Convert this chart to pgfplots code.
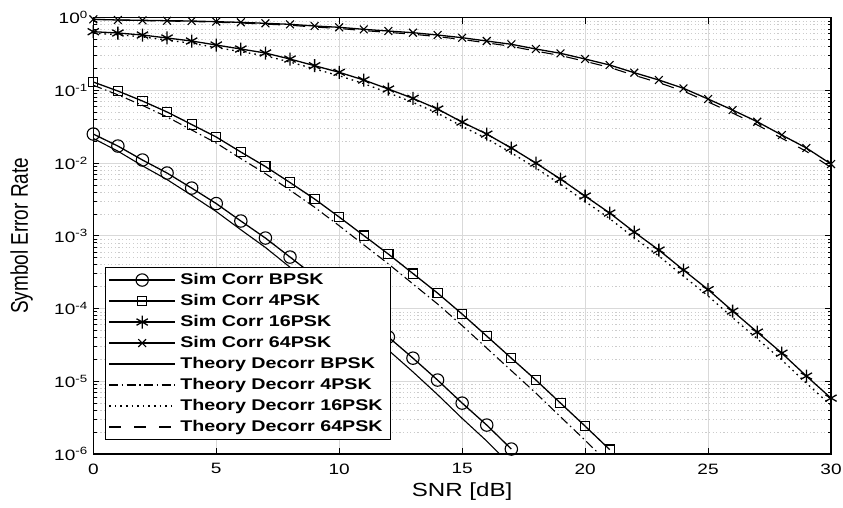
\documentclass[border=0pt]{standalone}
\usepackage{fontspec}
\setmainfont{Liberation Sans}[FakeStretch=1.27]
\newfontfamily\ylfont{Liberation Sans}
\usepackage{graphicx}
\usepackage{pgfplots}
\pgfplotsset{compat=1.18}
\pgfplotsset{
  simbpsk/.style={black, line width=1.3pt, mark=o, mark size=6.2pt, mark options={solid, line width=1.1pt}},
  sim4/.style={black, line width=1.3pt, mark=square, mark size=4.6pt, mark options={solid, line width=1.1pt}},
  sim16/.style={black, line width=1.3pt, mark=asterisk, mark size=6.5pt, mark options={solid, line width=1.3pt}},
  sim64/.style={black, line width=1.3pt, mark=x, mark size=5.5pt, mark options={solid, line width=1.1pt}},
  thbpsk/.style={black, line width=1.1pt, solid, no markers},
  th4/.style={black, line width=1.1pt, dash pattern=on 9pt off 3.5pt on 1.5pt off 3.5pt, no markers},
  th16/.style={black, line width=1.3pt, dash pattern=on 1.6pt off 4pt, no markers},
  th64/.style={black, line width=1.1pt, dash pattern=on 12pt off 13pt, no markers},
}
\begin{document}
\begin{tikzpicture}
\begin{axis}[
  scale only axis, width=737.7pt, height=436.3pt,
  at={(0pt,0pt)}, anchor=south west,
  xmin=0, xmax=30, ymode=log, ymin=1e-6, ymax=1,
  xtick={0,5,10,15,20,25,30},
  minor x tick num=0,
  ytick={1e-6,1e-5,1e-4,1e-3,1e-2,1e-1,1},
  yticklabels={10\textsuperscript{-6},10\textsuperscript{-5},10\textsuperscript{-4},10\textsuperscript{-3},10\textsuperscript{-2},10\textsuperscript{-1},10\textsuperscript{0}},
  /pgf/number format/assume math mode=true,
  tick label style={font=\fontsize{15}{18}\selectfont},
  xticklabel style={yshift=-6pt},
  yticklabel style={xshift=-2pt},
  xlabel={SNR [dB]},
  ylabel={\ylfont\scalebox{1}[1.27]{Symbol Error Rate}},
  xlabel style={font=\fontsize{19}{22}\selectfont, at={(axis description cs:0.5,0)}, anchor=center, yshift=-38pt},
  ylabel style={font=\fontsize{19}{22}\selectfont, at={(axis description cs:-0.097,0.5)}, anchor=center},
  axis line style={line width=1.2pt},
  tick style={black, line width=0.9pt},
  major tick length=6pt, minor tick length=3.5pt,
  tick pos=both, tick align=inside,
  xmajorgrids, ymajorgrids, yminorgrids,
  major grid style={gray!30, line width=0.8pt},
  minor grid style={gray!40, line width=0.8pt, dash pattern=on 1.2pt off 2.4pt},
]
% Sim Corr BPSK
\addplot[simbpsk] coordinates {
(0,0.02512) (1,0.01718) (2,0.01104) (3,0.00731) (4,0.00454) (5,0.00278) (6,0.00160) (7,0.000933) (8,0.000511) (9,0.000280) (10,0.0001486) (11,7.89e-5) (12,4.06e-5) (13,2.08e-5) (14,1.04e-5) (15,5.01e-6) (16,2.50e-6) (17,1.17e-6)};
% Sim Corr 4PSK
\addplot[sim4] coordinates {
(0,0.1305) (1,0.0981) (2,0.0715) (3,0.0505) (4,0.0340) (5,0.02286) (6,0.01422) (7,0.00898) (8,0.00541) (9,0.00321) (10,0.001815) (11,0.001009) (12,0.000562) (13,0.000303) (14,0.0001633) (15,8.40e-5) (16,4.19e-5) (17,2.08e-5) (18,1.04e-5) (19,5.01e-6) (20,2.42e-6) (21,1.15e-6)};
% Sim Corr 16PSK
\addplot[sim16] coordinates {
(0,0.642) (1,0.616) (2,0.578) (3,0.526) (4,0.478) (5,0.421) (6,0.371) (7,0.327) (8,0.270) (9,0.2187) (10,0.1774) (11,0.1390) (12,0.1045) (13,0.0778) (14,0.0555) (15,0.0367) (16,0.0251) (17,0.01614) (18,0.01002) (19,0.00604) (20,0.00353) (21,0.00206) (22,0.001127) (23,0.000638) (24,0.000339) (25,0.0001825) (26,9.24e-5) (27,4.75e-5) (28,2.44e-5) (29,1.180e-5) (30,5.87e-6)};
% Sim Corr 64PSK
\addplot[sim64] coordinates {
(0,0.950) (1,0.930) (2,0.921) (3,0.909) (4,0.901) (5,0.881) (6,0.864) (7,0.837) (8,0.811) (9,0.769) (10,0.738) (11,0.692) (12,0.656) (13,0.622) (14,0.578) (15,0.531) (16,0.478) (17,0.431) (18,0.371) (19,0.324) (20,0.2703) (21,0.2236) (22,0.1752) (23,0.1390) (24,0.1069) (25,0.0762) (26,0.0537) (27,0.0371) (28,0.02434) (29,0.01614) (30,0.00972)};
% Theory Decorr BPSK
\addplot[thbpsk] coordinates {
(0,0.02188) (1,0.01462) (2,0.00918) (3,0.00594) (4,0.00361) (5,0.00216) (6,0.001213) (7,0.000692) (8,0.000370) (9,0.000198) (10,0.0001028) (11,5.33e-5) (12,2.68e-5) (13,1.346e-5) (14,6.56e-6) (15,3.09e-6) (16,1.507e-6) (17,6.87e-7)};
% Theory Decorr 4PSK
\addplot[th4] coordinates {
(0,0.1178) (1,0.0870) (2,0.0622) (3,0.0432) (4,0.02858) (5,0.01890) (6,0.01156) (7,0.00717) (8,0.00425) (9,0.002474) (10,0.001377) (11,0.000752) (12,0.000412) (13,0.000218) (14,0.0001156) (15,5.84e-5) (16,2.86e-5) (17,1.401e-5) (18,6.87e-6) (19,3.25e-6) (20,1.545e-6) (21,7.20e-7)};
% Theory Decorr 16PSK
\addplot[th16] coordinates {
(0,0.613) (1,0.584) (2,0.545) (3,0.493) (4,0.445) (5,0.390) (6,0.341) (7,0.299) (8,0.2457) (9,0.1975) (10,0.1592) (11,0.1240) (12,0.0926) (13,0.0685) (14,0.0486) (15,0.0320) (16,0.02172) (17,0.01387) (18,0.00856) (19,0.00513) (20,0.00297) (21,0.001727) (22,0.000939) (23,0.000528) (24,0.000279) (25,0.0001491) (26,7.51e-5) (27,3.84e-5) (28,1.961e-5) (29,9.41e-6) (30,4.66e-6)};
% Theory Decorr 64PSK
\addplot[th64] coordinates {
(0,0.950) (1,0.927) (2,0.914) (3,0.899) (4,0.888) (5,0.865) (6,0.846) (7,0.816) (8,0.788) (9,0.744) (10,0.711) (11,0.665) (12,0.628) (13,0.593) (14,0.549) (15,0.502) (16,0.451) (17,0.404) (18,0.347) (19,0.302) (20,0.2512) (21,0.2069) (22,0.1615) (23,0.1277) (24,0.0979) (25,0.0695) (26,0.0488) (27,0.0336) (28,0.02196) (29,0.01451) (30,0.00871)};
\end{axis}
% overlay axis carrying only the legend, so that it sits above all markers
\begin{axis}[
  scale only axis, width=737.7pt, height=436.3pt,
  at={(0pt,0pt)}, anchor=south west,
  xmin=0, xmax=30, ymin=0, ymax=1,
  hide axis,
  legend image code/.code={\draw[mark repeat=2,mark phase=2,#1] plot coordinates {(0pt,0pt) (33pt,0pt) (66pt,0pt)};},
  legend cell align=left,
  legend style={at={(axis description cs:0.0159,0.032)}, anchor=south west,
    draw=black, line width=1pt, fill=white,
    font=\bfseries\fontsize{15.5}{18}\selectfont,
    inner xsep=3pt, inner ysep=3.5pt, row sep=3pt,
    nodes={inner sep=2pt, inner xsep=4.5pt, text height=11pt, text depth=3pt}},
]
\addlegendimage{simbpsk}\addlegendentry{Sim Corr BPSK}
\addlegendimage{sim4}\addlegendentry{Sim Corr 4PSK}
\addlegendimage{sim16}\addlegendentry{Sim Corr 16PSK}
\addlegendimage{sim64}\addlegendentry{Sim Corr 64PSK}
\addlegendimage{thbpsk}\addlegendentry{Theory Decorr BPSK}
\addlegendimage{th4}\addlegendentry{Theory Decorr 4PSK}
\addlegendimage{th16}\addlegendentry{Theory Decorr 16PSK}
\addlegendimage{th64}\addlegendentry{Theory Decorr 64PSK}
\end{axis}
\pgfresetboundingbox
\path[use as bounding box] (-93.3pt,-53pt) rectangle (749.7pt,454pt);
\end{tikzpicture}
\end{document}
